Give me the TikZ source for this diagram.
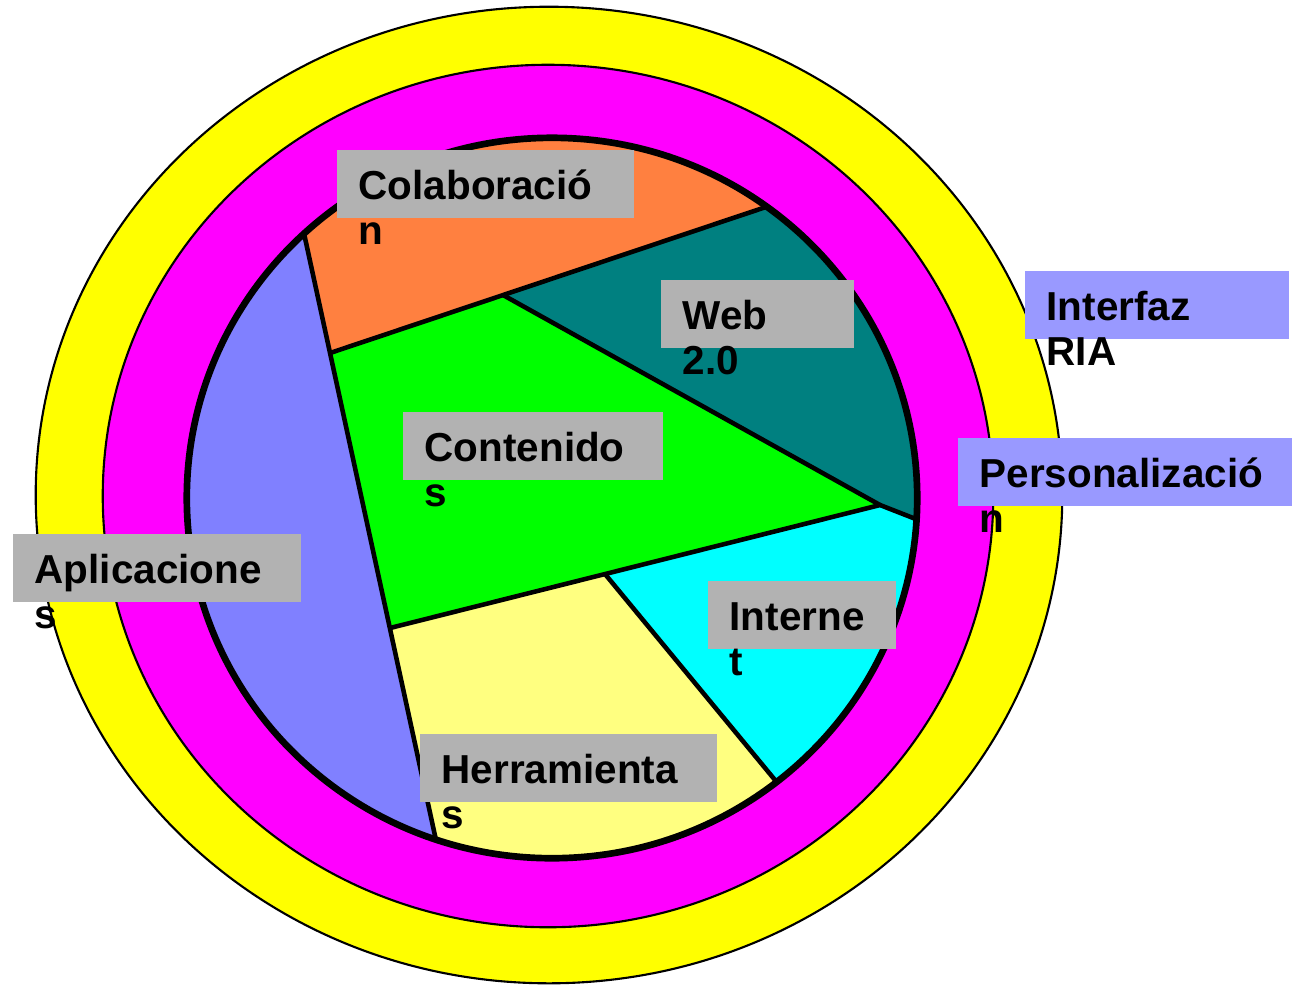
\documentclass[tikz,border=0pt]{standalone}
\usepackage{fontspec}
\setmainfont{Liberation Sans}
\usepackage{tikz}

\definecolor{ringyellow}{HTML}{FFFF00}
\definecolor{ringmagenta}{HTML}{FF00FF}
\definecolor{appblue}{HTML}{8080FF}
\definecolor{colorange}{HTML}{FF8040}
\definecolor{webteal}{HTML}{008080}
\definecolor{contgreen}{HTML}{00FF00}
\definecolor{netcyan}{HTML}{00FFFF}
\definecolor{toolyellow}{HTML}{FFFF80}
\definecolor{boxgrey}{HTML}{B2B2B2}
\definecolor{boxviolet}{HTML}{9999FF}
\newcommand{\lblfont}{\fontsize{11.5}{13}\selectfont\bfseries}
\lefthyphenmin=64

\begin{document}
\begin{tikzpicture}[x=0.01cm, y=-0.01cm,
  lbox/.style={fill=boxgrey, anchor=north west, inner xsep=0.22cm, inner ysep=0pt, text height=0.5cm, text depth=0.18cm, align=left, font=\lblfont},
  lrest/.style={anchor=base west, inner sep=0pt, font=\lblfont}]
\useasboundingbox (0,0) rectangle (1292,987);

\draw[fill=ringyellow, line width=0.6pt] (549,495) ellipse [x radius=5.13cm, y radius=4.88cm];
\draw[fill=ringmagenta, line width=0.6pt] (548,496) ellipse [x radius=4.45cm, y radius=4.31cm];

\begin{scope}
\clip (552,498) ellipse [x radius=3.65cm, y radius=3.60cm];
\fill[appblue] (150,100) rectangle (1000,900);
\fill[colorange] (275,100) -- (330,353) -- (960,142) -- (960,100) -- cycle;
\fill[webteal] (503,295) -- (960,142) -- (1000,142) -- (1000,552) -- (880,505) -- cycle;
\fill[contgreen] (330,353) -- (503,295) -- (880,505) -- (390,628) -- cycle;
\fill[netcyan] (605,574) -- (880,505) -- (1000,552) -- (1000,900) -- (874,900) -- cycle;
\fill[toolyellow] (390,628) -- (605,574) -- (874,900) -- (449,900) -- cycle;

\draw[line width=1.3pt] (275,100) -- (449,900);
\draw[line width=1.3pt] (330,353) -- (960,142);
\draw[line width=1.3pt] (503,295) -- (880,505);
\draw[line width=1.3pt] (390,628) -- (880,505) -- (1000,552);
\draw[line width=1.3pt] (605,574) -- (874,900);
\end{scope}
\draw[line width=1.9pt] (552,498) ellipse [x radius=3.65cm, y radius=3.60cm];

\node[lbox, text width=2.53cm] (colab) at (336,149) {Colaboració};
\node[lrest] (colabB) at ([shift={(22,45)}]colab.base west) {n};

\node[lbox, text width=1.49cm] (web) at (660,279) {Web};
\node[lrest] (webB) at ([shift={(22,45)}]web.base west) {2.0};

\node[lbox, text width=2.16cm] (cont) at (402,411) {Contenido};
\node[lrest] (contB) at ([shift={(22,45)}]cont.base west) {s};

\node[lbox, text width=2.44cm] (aplic) at (12,533) {Aplicacione};
\node[lrest] (aplicB) at ([shift={(22,45)}]aplic.base west) {s};

\node[lbox, text width=1.44cm] (inet) at (707,580) {Interne};
\node[lrest] (inetB) at ([shift={(22,45)}]inet.base west) {t};

\node[lbox, text width=2.53cm] (herr) at (419,733) {Herramienta};
\node[lrest] (herrB) at ([shift={(22,45)}]herr.base west) {s};

\node[lbox, fill=boxviolet, text width=2.20cm] (ria) at (1024,270) {Interfaz};
\node[lrest] (riaB) at ([shift={(22,45)}]ria.base west) {RIA};

\node[lbox, fill=boxviolet, text width=2.91cm] (pers) at (957,437) {Personalizació};
\node[lrest] (persB) at ([shift={(22,45)}]pers.base west) {n};
\end{tikzpicture}
\end{document}
